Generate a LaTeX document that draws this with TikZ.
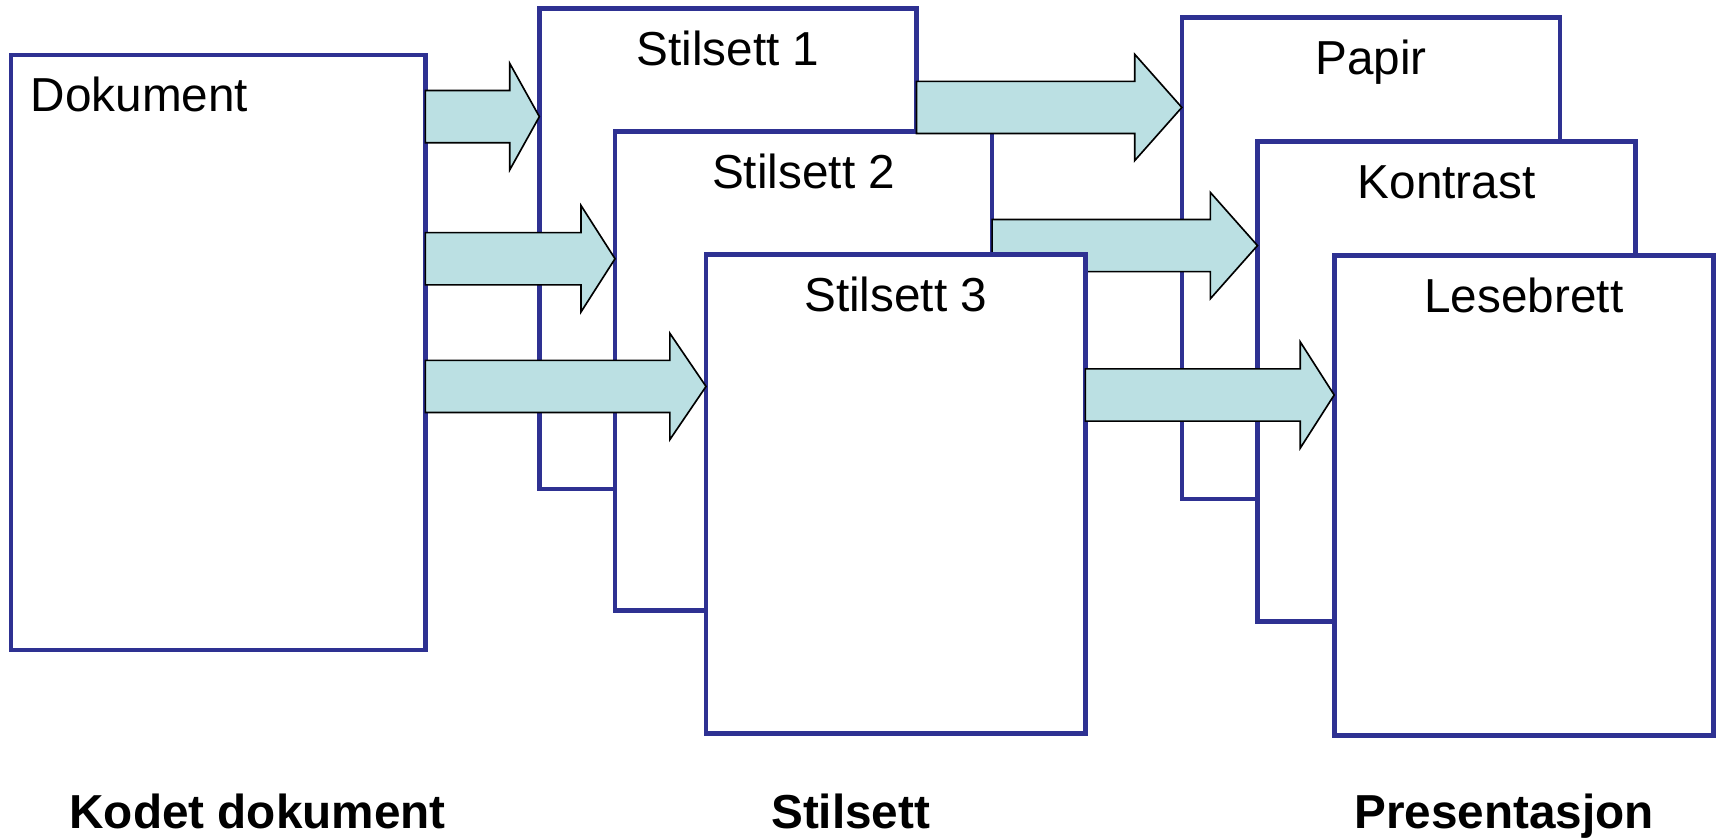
\documentclass[tikz,border=0pt]{standalone}
\usepackage{fontspec}
\setmainfont{Liberation Sans}
\usetikzlibrary{calc}
\definecolor{boxblue}{RGB}{46,49,146}
\definecolor{arrfill}{RGB}{187,224,227}
\newcommand\blockarr[4]{%
  \draw[blockarrow] let \p1=(#1.east), \p2=(#2.west) in
  (\x1,#3-23.8) -- (\x2-#4pt,#3-23.8) -- (\x2-#4pt,#3-48.5) -- (\x2,#3)
  -- (\x2-#4pt,#3+48.5) -- (\x2-#4pt,#3+23.8) -- (\x1,#3+23.8) -- cycle;}
\begin{document}
\begin{tikzpicture}[x=1pt,y=-1pt,
  doc/.style={draw=boxblue, line width=4.2pt, fill=white, inner sep=0pt, outer sep=0pt, anchor=north west},
  blockarrow/.style={draw=black, line width=1.5pt, fill=arrfill, line join=miter},
  lbl/.style={font=\fontsize{43.5}{50}\selectfont, inner sep=0pt, anchor=base},
  captxt/.style={font=\fontsize{43.5}{50}\selectfont\bfseries, inner sep=0pt, anchor=base}]
\useasboundingbox[fill=white] (0,0) rectangle (1568,766);
% coded document
\node[doc, minimum width=378, minimum height=543] (dok) at (10,50) {};
\node[lbl, anchor=base west] (tdok) at (28,102) {Dokument};
% style sheets 1 and 2
\node[doc, minimum width=344, minimum height=438] (st1) at (492,8) {};
\node[lbl] (tst1) at ($(st1.north)+(0,52)$) {Stilsett 1};
\node[doc, minimum width=344, minimum height=437] (st2) at (561,120) {};
\node[lbl] (tst2) at ($(st2.north)+(0,52)$) {Stilsett 2};
% presentations
\node[doc, minimum width=345, minimum height=439] (pap) at (1078,16) {};
\node[lbl] (tpap) at ($(pap.north)+(0,52)$) {Papir};
\node[doc, minimum width=345, minimum height=438] (kon) at (1147,129) {};
\node[lbl] (tkon) at ($(kon.north)+(0,52)$) {Kontrast};
% arrows from style sheets 1 and 2
\blockarr{st1}{pap}{98}{43}
\blockarr{st2}{kon}{224}{43}
% style sheet 3
\node[doc, minimum width=346, minimum height=437] (st3) at (644,232) {};
\node[lbl] (tst3) at ($(st3.north)+(0,52)$) {Stilsett 3};
% reading board
\node[doc, minimum width=346, minimum height=438] (les) at (1217,233) {};
\node[lbl] (tles) at ($(les.north)+(0,52)$) {Lesebrett};
\blockarr{st3}{les}{360.3}{31}
% arrows from the document
\blockarr{dok}{st1}{106.4}{27}
\blockarr{dok}{st2}{236}{31}
\blockarr{dok}{st3}{352.5}{33}
% captions
\node[captxt] (c1) at (235,756) {Kodet dokument};
\node[captxt] (c2) at (776,756) {Stilsett};
\node[captxt] (c3) at (1372,756) {Presentasjon};
\end{tikzpicture}
\end{document}
